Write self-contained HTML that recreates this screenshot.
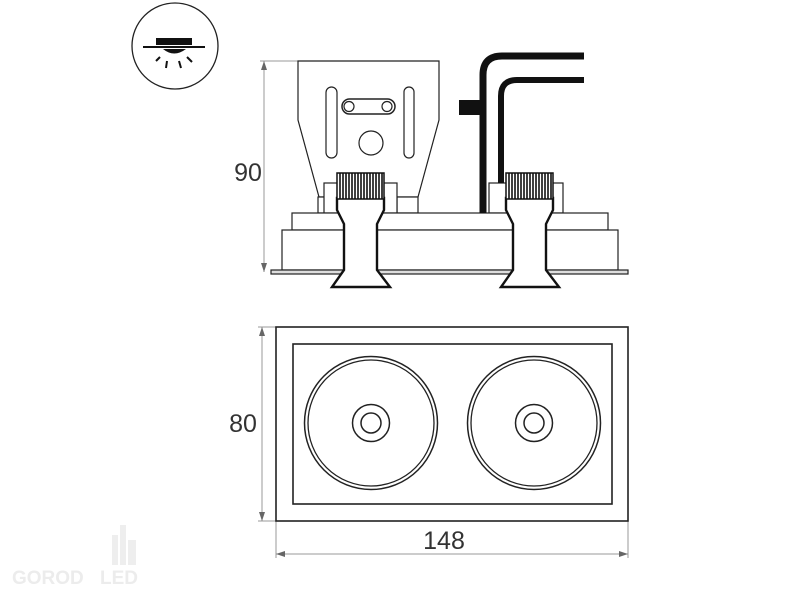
<!DOCTYPE html>
<html><head><style>body{margin:0;background:#fff}svg{display:block}</style></head><body>
<svg width="800" height="600" viewBox="0 0 800 600" xmlns="http://www.w3.org/2000/svg" font-family="Liberation Sans, sans-serif">
<rect width="800" height="600" fill="#fff"/>
<!-- icon -->
<circle cx="175" cy="46" r="43" fill="none" stroke="#222" stroke-width="1.3"/>
<rect x="156" y="38" width="36" height="7" fill="#111"/>
<line x1="143" y1="47" x2="205" y2="47" stroke="#111" stroke-width="2"/>
<path d="M163 49 Q174 58 186 49 Z" fill="#111"/>
<g stroke="#111" stroke-width="2">
<line x1="160" y1="57" x2="156" y2="61"/><line x1="167" y1="61" x2="166" y2="68"/><line x1="179" y1="61" x2="181" y2="68"/><line x1="187" y1="57" x2="192" y2="62"/></g>
<!-- side view -->
<g stroke="#999" stroke-width="1" fill="none">
<line x1="264" y1="61" x2="264" y2="272"/><line x1="260" y1="61" x2="298" y2="61"/>
</g>
<path d="M264 61 l-3 9 h6z M264 272 l-3 -9 h6z" fill="#666"/>
<g stroke="#222" stroke-width="1.2" fill="#fff">
<path d="M298 61 H439 V120 L418 197 H319 L298 120 Z"/>
<rect x="318" y="197" width="19" height="16"/>
<rect x="397" y="197" width="21" height="16"/>
<rect x="324" y="183" width="73" height="30"/>
<rect x="489" y="183" width="74" height="30"/>
<rect x="292" y="213" width="316" height="17"/>
<rect x="282" y="230" width="336" height="40"/>
<rect x="271" y="270" width="357" height="4" fill="#ddd"/>
<rect x="326" y="87" width="11" height="71" rx="5.5"/>
<rect x="404" y="87" width="10" height="71" rx="5"/>
<rect x="342" y="99" width="53" height="15" rx="7.5" stroke-width="1.5"/>
<circle cx="349" cy="106.5" r="5"/><circle cx="387" cy="106.5" r="5"/>
<circle cx="371" cy="143" r="12"/>
</g>
<!-- cables -->
<g stroke="#111" fill="none" stroke-width="7">
<path d="M483 213 V75 Q483 56 502 56 H584"/>
<path d="M501 183 V96 Q501 80 517 80 H584" stroke-width="6"/>
</g>
<rect x="459" y="100" width="22" height="15" fill="#111"/>
<!-- lamps -->
<g stroke="#111" stroke-width="2.4" fill="#fff">
<path d="M337 198 V210 L344 224 V270 L332 287 H390 L377 270 V224 L384 210 V198 Z"/>
<path d="M506 198 V210 L513 224 V270 L501 287 H559 L546 270 V224 L553 210 V198 Z"/>
</g>
<g stroke="#111" stroke-width="1.6">
<rect x="337" y="173" width="47" height="26" fill="#fff" stroke-width="1.5"/>
<rect x="506" y="173" width="47" height="26" fill="#fff" stroke-width="1.5"/>
<path d="M340 173V199M343 173V199M346 173V199M349 173V199M352 173V199M355 173V199M358 173V199M361 173V199M364 173V199M367 173V199M370 173V199M373 173V199M376 173V199M379 173V199M382 173V199"/>
<path d="M509 173V199M512 173V199M515 173V199M518 173V199M521 173V199M524 173V199M527 173V199M530 173V199M533 173V199M536 173V199M539 173V199M542 173V199M545 173V199M548 173V199M551 173V199"/>
</g>
<text x="248" y="181" font-size="25" text-anchor="middle" fill="#333">90</text>
<!-- front view -->
<g stroke="#999" stroke-width="1" fill="none">
<line x1="262" y1="327" x2="262" y2="521"/><line x1="258" y1="327" x2="276" y2="327"/><line x1="258" y1="521" x2="276" y2="521"/>
<line x1="276" y1="521" x2="276" y2="558"/><line x1="628" y1="521" x2="628" y2="558"/>
<line x1="276" y1="554" x2="628" y2="554"/>
</g>
<path d="M262 327 l-3 9 h6z M262 521 l-3 -9 h6z M276 554 l9 -3 v6z M628 554 l-9 -3 v6z" fill="#666"/>
<g stroke="#222" fill="none">
<rect x="276" y="327" width="352" height="194" stroke-width="1.6"/>
<rect x="293" y="344" width="319" height="160" stroke-width="1.6"/>
<circle cx="371" cy="423" r="66.5" stroke-width="1.5"/><circle cx="371" cy="423" r="63" stroke-width="1.3"/>
<circle cx="371" cy="423" r="18.5" stroke-width="1.5"/><circle cx="371" cy="423" r="10" stroke-width="1.5"/>
<circle cx="534" cy="423" r="66.5" stroke-width="1.5"/><circle cx="534" cy="423" r="63" stroke-width="1.3"/>
<circle cx="534" cy="423" r="18.5" stroke-width="1.5"/><circle cx="534" cy="423" r="10" stroke-width="1.5"/>
</g>
<text x="243" y="432" font-size="25" text-anchor="middle" fill="#333">80</text>
<text x="444" y="549" font-size="25" text-anchor="middle" fill="#333">148</text>
<!-- watermark -->
<text x="12" y="584" font-size="19" font-weight="bold" fill="#ececec">GOROD</text>
<text x="100" y="584" font-size="19" font-weight="bold" fill="#ececec">LED</text>
<g fill="#eee"><rect x="112" y="535" width="6" height="30"/><rect x="120" y="525" width="6" height="40"/><rect x="128" y="540" width="8" height="25"/></g>
</svg>
</body></html>
